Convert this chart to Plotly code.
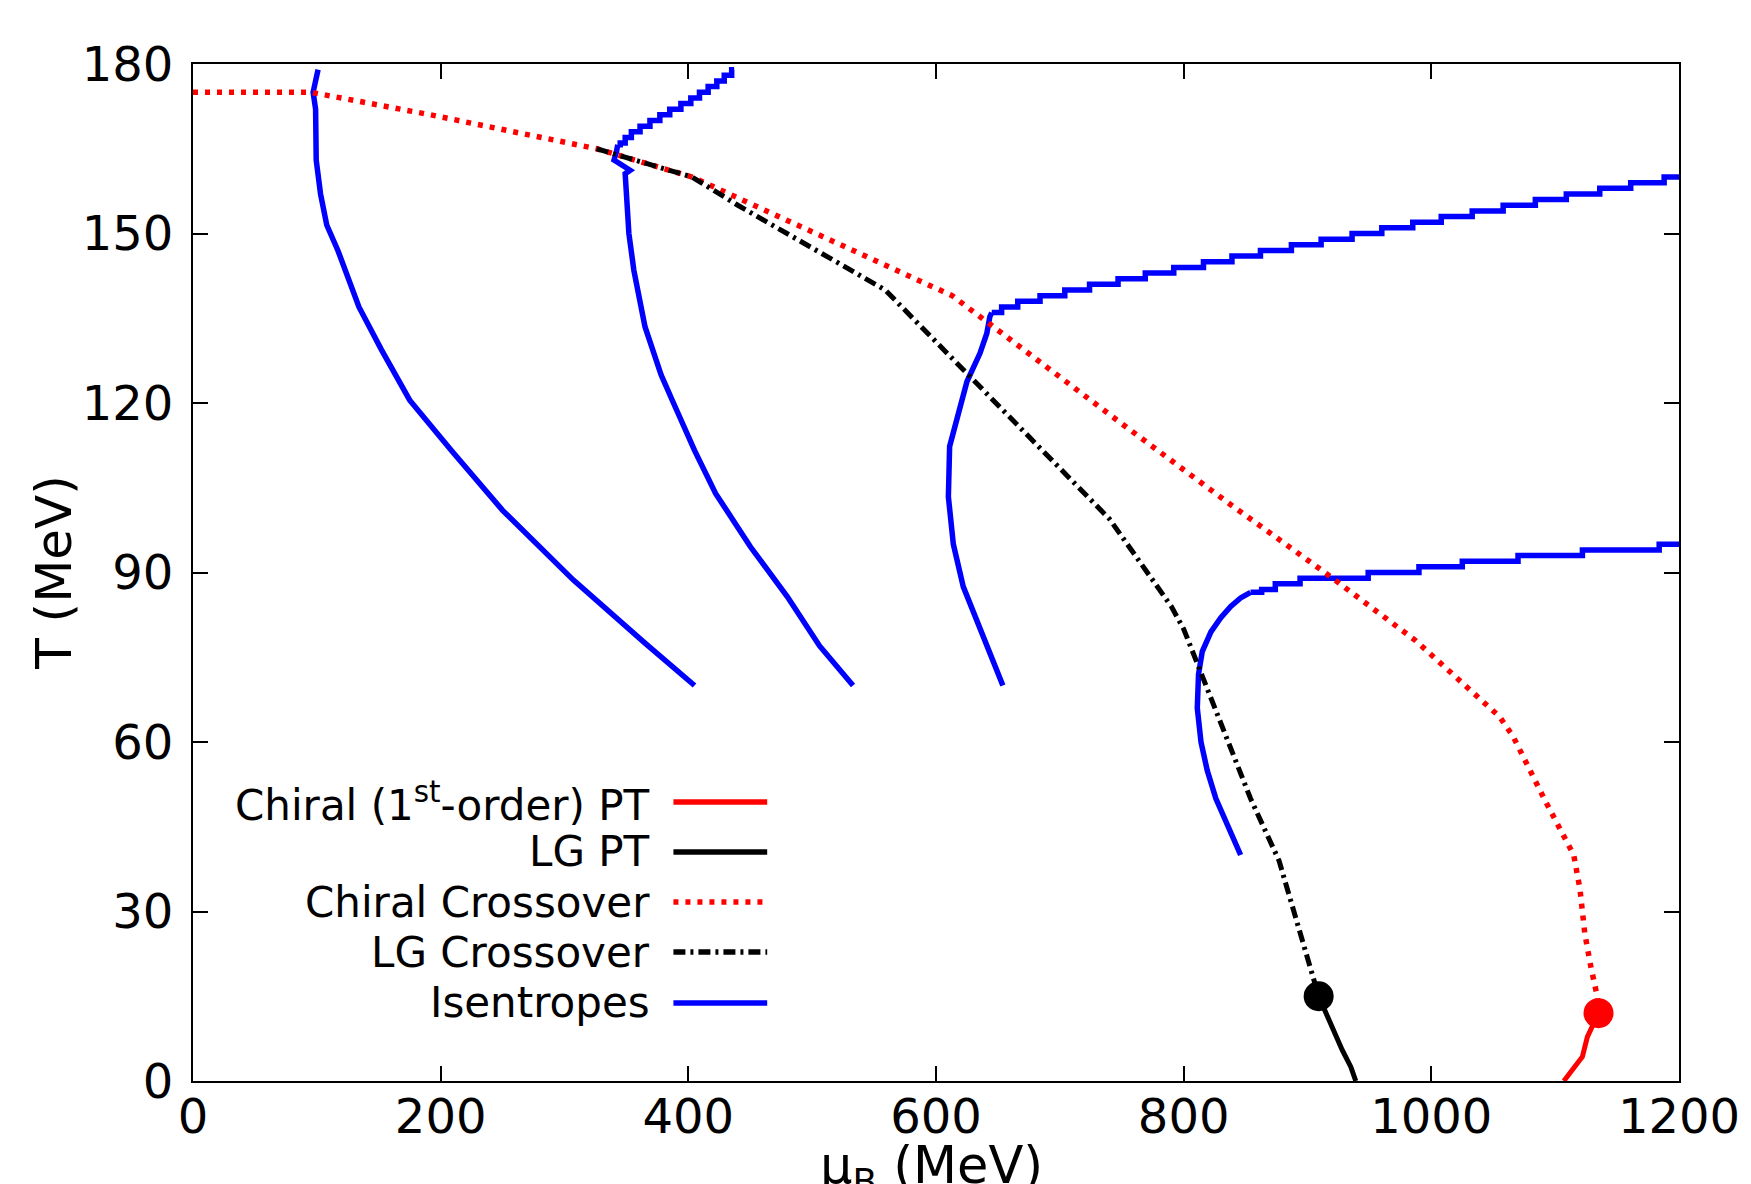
import plotly.graph_objects as go

# ---------------- data ----------------
# Chiral crossover (red dotted)
chiral_co_mu = [0, 95, 192, 326, 403, 613, 746, 838, 914, 987, 1055, 1066, 1091, 1115, 1120, 1124, 1129, 1134, 1135]
chiral_co_T = [175, 175, 171, 165, 160, 139, 117, 102, 90, 78, 64.5, 61, 50, 40, 34, 26, 20, 15, 12]

# Chiral first-order phase transition (red solid)
chiral_pt_mu = [1135, 1126, 1122, 1114, 1107]
chiral_pt_T = [12, 7.8, 4.3, 1.9, 0]

# Liquid-gas crossover (black dash-dot)
lg_co_mu = [326, 403, 440, 559, 740, 790, 800, 810, 829, 854, 877, 905, 909]
lg_co_T = [165, 160, 155, 140, 99.5, 84, 80, 74.5, 64, 50, 39, 18.5, 15]

# Liquid-gas phase transition (black solid)
lg_pt_mu = [909, 916, 928, 935, 939]
lg_pt_T = [15, 11.4, 5.5, 2.5, 0]

# Critical end points
cep_chiral_mu = [1135]
cep_chiral_T = [12]
cep_lg_mu = [909]
cep_lg_T = [15]

# Isentropes (blue)
iso1_mu = [405, 365, 307, 250, 209, 175, 152, 134, 117, 108, 103, 99.5, 99, 97, 101]
iso1_T = [70, 77.5, 88.7, 101, 111.5, 120.5, 129.5, 137, 147, 151.5, 157, 163, 172, 175, 179]

iso2_mu = [533, 506, 480, 450, 422, 405, 388, 378, 365, 356, 352, 349, 353, 340, 342, 343]
iso2_T = [70, 77, 85.7, 94.6, 104, 111.6, 120, 125, 133.5, 143.5, 150, 160.6, 161.2, 163, 164.5, 165.7]
iso2_step_mu = [343, 345, 349, 354, 361, 369, 377, 385, 394, 402, 409, 416, 423, 429, 435, 437]
iso2_step_T = [165.7, 166, 167, 168, 169, 170, 171, 172, 173, 174, 175, 176, 177, 178, 179, 179]

iso3_mu = [654, 645, 636, 622, 614, 610, 611, 617, 625, 635.5, 641, 643.5, 645]
iso3_T = [70, 75, 80, 87.5, 95, 103.4, 112.3, 117.6, 123.8, 128.8, 132.3, 135.3, 136]
iso3_step_mu = [645, 653, 666, 684, 704, 724, 747, 769, 792, 816, 839, 862, 887, 911, 936, 960,
                985, 1008, 1033, 1058, 1084, 1109, 1136, 1161, 1188, 1200]
iso3_step_T = [136, 137, 138, 139, 140, 141, 142, 143, 144, 145, 146, 147, 148, 149, 150, 151,
               152, 153, 154, 155, 156, 157, 158, 159, 160, 160]

iso4_mu = [846, 836, 826, 819, 814, 811, 812, 815, 822, 830, 838, 846, 854]
iso4_T = [40, 45, 50, 55, 60, 66, 72, 76, 79.5, 82, 84, 85.5, 86.5]
iso4_step_mu = [854, 863, 874, 894, 949, 990, 1025, 1070, 1122, 1184, 1200]
iso4_step_T = [86.5, 87, 88, 89, 90, 91, 92, 93, 94, 95, 95]

x_ticks = [0, 200, 400, 600, 800, 1000, 1200]
y_ticks = [0, 30, 60, 90, 120, 150, 180]

legend_labels = ["Chiral (1<sup>st</sup>-order) PT", "LG PT", "Chiral Crossover", "LG Crossover", "Isentropes"]

# ---------------- styles ----------------
RED = "#ff0000"
BLUE = "#0000ff"
BLACK = "#000000"
DOT = "5px,7px"
DASHDOT = "12px,5px,3px,5px"
FONT = "DejaVu Sans"

fig = go.Figure()

def add_line(x, y, color, width, dash="solid", shape="linear"):
    fig.add_trace(go.Scatter(x=x, y=y, mode="lines", showlegend=False, hoverinfo="skip",
                             line=dict(color=color, width=width, dash=dash, shape=shape)))

# isentropes
for mu, T in [(iso1_mu, iso1_T), (iso2_mu, iso2_T), (iso3_mu, iso3_T), (iso4_mu, iso4_T)]:
    add_line(mu, T, BLUE, 5.5)
for mu, T in [(iso2_step_mu, iso2_step_T), (iso3_step_mu, iso3_step_T), (iso4_step_mu, iso4_step_T)]:
    add_line(mu, T, BLUE, 5.5, shape="hv")

# crossovers and transitions
add_line(chiral_co_mu, chiral_co_T, RED, 5.5, dash=DOT)
add_line(lg_co_mu, lg_co_T, BLACK, 5, dash=DASHDOT)
add_line(chiral_pt_mu, chiral_pt_T, RED, 5)
add_line(lg_pt_mu, lg_pt_T, BLACK, 5)

# critical points
fig.add_trace(go.Scatter(x=cep_lg_mu, y=cep_lg_T, mode="markers", showlegend=False, hoverinfo="skip",
                         marker=dict(color=BLACK, size=30)))
fig.add_trace(go.Scatter(x=cep_chiral_mu, y=cep_chiral_T, mode="markers", showlegend=False, hoverinfo="skip",
                         marker=dict(color=RED, size=30)))

# ---------------- gnuplot-style key (text right, sample line on the right) ----------------
legend_styles = [(RED, "solid", 5.5), (BLACK, "solid", 5.5), (RED, DOT, 5.5), (BLACK, DASHDOT, 5.5), (BLUE, "solid", 5.5)]
row_y = [0.2743, 0.2252, 0.1760, 0.1268, 0.0767]
for lab, (c, d, w), yy in zip(legend_labels, legend_styles, row_y):
    fig.add_annotation(x=0.3091, y=yy, xref="paper", yref="paper", text=lab, showarrow=False,
                       xanchor="right", yanchor="middle", font=dict(family=FONT, size=42, color="black"))
    fig.add_shape(type="line", xref="paper", yref="paper", x0=0.3233, x1=0.3864, y0=yy, y1=yy,
                  line=dict(color=c, width=w, dash=d))

# axis titles
fig.add_annotation(x=0.4973, y=-0.087, xref="paper", yref="paper", text="μ<sub>B</sub> (MeV)",
                   showarrow=False, xanchor="center", yanchor="middle",
                   font=dict(family=FONT, size=51, color="black"))
fig.add_annotation(x=-0.094, y=0.5, xref="paper", yref="paper", text="T (MeV)", textangle=-90,
                   showarrow=False, xanchor="center", yanchor="middle",
                   font=dict(family=FONT, size=50, color="black"))

axis_common = dict(showgrid=False, zeroline=False, showline=True, linecolor="black", linewidth=2,
                   mirror="allticks", ticks="inside", ticklen=15, tickwidth=2, tickcolor="black",
                   tickfont=dict(family=FONT, size=48, color="black"), automargin=False)

fig.update_xaxes(range=[0, 1200], tickvals=x_ticks, ticktext=[str(v) for v in x_ticks],
                 ticklabelstandoff=-8, **axis_common)
fig.update_yaxes(range=[0, 180], tickvals=y_ticks, ticktext=[str(v) for v in y_ticks],
                 ticklabelstandoff=8, **axis_common)

fig.update_layout(width=1751, height=1184, margin=dict(l=185, r=80, t=56, b=111),
                  paper_bgcolor="white", plot_bgcolor="white", showlegend=False,
                  font=dict(family=FONT, color="black"))

fig.write_html("out.html")
